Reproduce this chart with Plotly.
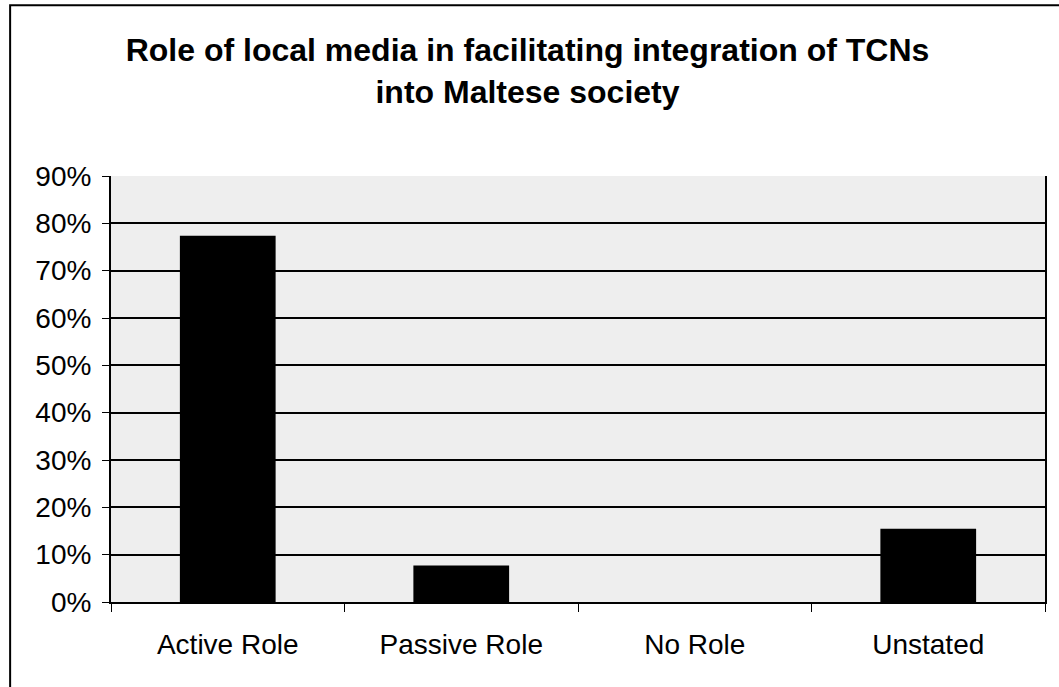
import plotly.graph_objects as go

categories = ["Active Role", "Passive Role", "No Role", "Unstated"]
values = [0.774, 0.077, 0.0, 0.155]
y_ticks = [0, 0.1, 0.2, 0.3, 0.4, 0.5, 0.6, 0.7, 0.8, 0.9]
title_text = "Role of local media in facilitating integration of TCNs<br>into Maltese society"

FONT = "Liberation Sans, Arial, sans-serif"

fig = go.Figure()
fig.add_trace(go.Bar(
    x=categories, y=values,
    marker=dict(color="#000000", line=dict(color="#000000", width=0)),
    width=0.41,
))

fig.update_layout(
    width=1059, height=687,
    paper_bgcolor="white",
    plot_bgcolor="#eeeeee",
    margin=dict(l=111, r=14, t=176, b=85),
    showlegend=False,
    bargap=0.59,
    font=dict(family=FONT, color="black", size=28),
    title=dict(
        text="<b>" + title_text + "</b>",
        x=527.5 / 1059, xref="container", xanchor="center",
        y=1 - 61 / 687, yref="container", yanchor="middle",
        font=dict(family=FONT, size=32, color="black"),
    ),
    xaxis=dict(
        tickson="boundaries", ticks="outside", ticklen=8, tickcolor="black",
        showline=True, linecolor="black", linewidth=2,
        showgrid=False, tickfont=dict(size=28), mirror=False,
        ticklabelstandoff=16,
    ),
    yaxis=dict(
        range=[0, 0.9], tickvals=y_ticks, tickformat=".0%",
        ticks="outside", ticklen=7, tickcolor="black",
        showline=True, linecolor="black", linewidth=2, mirror=True,
        showgrid=True, gridcolor="black", gridwidth=1.5,
        zeroline=False, tickfont=dict(size=28),
        ticklabelstandoff=5,
    ),
    shapes=[dict(
        type="rect", xref="paper", yref="paper",
        x0=-0.108, x1=1.03, y0=-0.25, y1=1.401,
        line=dict(color="black", width=2), fillcolor="rgba(0,0,0,0)", layer="above",
    )],
)

fig.write_html("out.html", config={"displayModeBar": False},
               post_script="document.body.style.margin='0';")
